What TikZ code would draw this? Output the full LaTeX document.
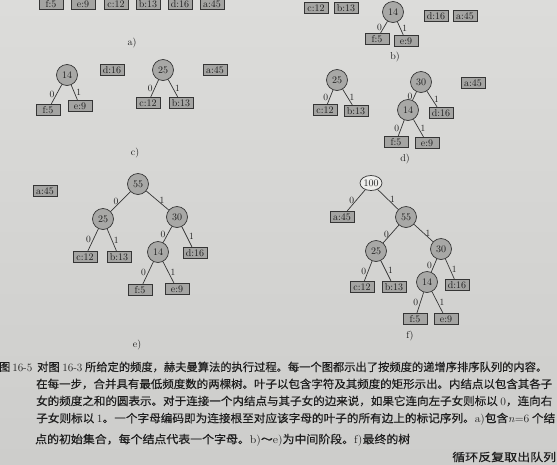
\documentclass[tikz,border=0pt]{standalone}
\usepackage{fontspec}
\usepackage{graphicx}
\usetikzlibrary{shapes.geometric}
\newfontfamily\cjk[FakeBold=0.4]{Noto Sans CJK SC}
\newcommand\lat[1]{{\rmfamily #1}}
\definecolor{paperTop}{HTML}{DCDCDA}
\definecolor{paperBot}{HTML}{CDCDCB}
\definecolor{nodefill}{HTML}{A8A8A6}
\definecolor{leaffill}{HTML}{A4A4A2}
\definecolor{edgec}{HTML}{353535}
\definecolor{ink}{HTML}{1E1E1E}
\definecolor{rootfill}{HTML}{EEEEEC}
\begin{document}
\begin{tikzpicture}[x=1pt,y=-1pt,
  inn/.style={circle, draw=edgec, line width=0.7pt, fill=nodefill, minimum size=21pt, inner sep=0pt, font=\fontsize{10}{10}\selectfont, text=ink},
  rootn/.style={ellipse, draw=edgec, line width=0.7pt, fill=rootfill, minimum width=22pt, minimum height=15pt, inner sep=0pt, font=\fontsize{10}{10}\selectfont, text=ink},
  lf/.style={rectangle, draw=edgec, line width=0.8pt, fill=leaffill, minimum width=24pt, minimum height=11.5pt, inner xsep=2pt, inner ysep=0.5pt, font=\fontsize{10}{10}\selectfont, text=ink},
  lbl/.style={font=\fontsize{9.5}{10}\selectfont, inner sep=1.8pt, text=ink},
  panel/.style={font=\fontsize{10}{10}\selectfont, text=ink},
  edg/.style={draw=edgec, line width=0.7pt},
  captxt/.style={font=\cjk\fontsize{11.2}{12}\selectfont, text=ink, inner sep=0pt, anchor=west}
]
\useasboundingbox (0,0) rectangle (557,464);
\shade[top color=paperTop, bottom color=paperBot] (0,0) rectangle (557,464);

% ---------- a) ----------
\node[lf] (fa) at (51,4) {f:5};
\node[lf] (ea) at (83,4) {e:9};
\node[lf] (ca) at (116,4) {c:12};
\node[lf] (ba) at (148,4) {b:13};
\node[lf] (da) at (180,4) {d:16};
\node[lf] (aa) at (212,4) {a:45};
\node[panel] (pa) at (132,43) {a)};

% ---------- b) ----------
\node[lf] (cb) at (316,8) {c:12};
\node[lf] (bb) at (346,8) {b:13};
\node[inn] (n14b) at (393,12) {14};
\node[lf] (fb) at (377,39) {f:5};
\node[lf] (eb) at (406,41) {e:9};
\node[lf] (db) at (436,16) {d:16};
\node[lf] (ab) at (465,16) {a:45};
\draw[edg] (n14b) -- node[lbl,left] (lb0) {0} (fb);
\draw[edg] (n14b) -- node[lbl,right] (lb1) {1} (eb);
\node[panel] (pb) at (395,57) {b)};

% ---------- c) ----------
\node[inn] (n14c) at (67,75) {14};
\node[lf] (fc) at (48,110) {f:5};
\node[lf] (ec) at (80,106) {e:9};
\draw[edg] (n14c) -- node[lbl,left] (lc0) {0} (fc);
\draw[edg] (n14c) -- node[lbl,right] (lc1) {1} (ec);
\node[lf] (dc) at (112,70) {d:16};
\node[inn] (n25c) at (163,70) {25};
\node[lf] (cc) at (148,103) {c:12};
\node[lf] (bc) at (181,103) {b:13};
\draw[edg] (n25c) -- node[lbl,left] (lc2) {0} (cc);
\draw[edg] (n25c) -- node[lbl,right] (lc3) {1} (bc);
\node[lf] (ac) at (215,70) {a:45};
\node[panel] (pc) at (135,153) {c)};

% ---------- d) ----------
\node[inn] (n25d) at (337,80) {25};
\node[lf] (cd) at (325,110) {c:12};
\node[lf] (bd) at (356,111) {b:13};
\draw[edg] (n25d) -- node[lbl,left] (ld0) {0} (cd);
\draw[edg] (n25d) -- node[lbl,right] (ld1) {1} (bd);
\node[inn] (n30d) at (421,82) {30};
\node[inn] (n14d) at (408,110) {14};
\node[lf] (dd) at (441,113) {d:16};
\draw[edg] (n30d) -- node[lbl,left] (ld2) {0} (n14d);
\draw[edg] (n30d) -- node[lbl,right] (ld3) {1} (dd);
\node[lf] (fd) at (396,142) {f:5};
\node[lf] (ed) at (427,143) {e:9};
\draw[edg] (n14d) -- node[lbl,left] (ld4) {0} (fd);
\draw[edg] (n14d) -- node[lbl,right] (ld5) {1} (ed);
\node[lf] (ad) at (473,83) {a:45};
\node[panel] (pd) at (405,159) {d)};

% ---------- e) ----------
\node[lf] (ae) at (45,191) {a:45};
\node[inn] (n55e) at (138,184) {55};
\node[inn] (n25e) at (103,219) {25};
\node[inn] (n30e) at (177,217) {30};
\draw[edg] (n55e) -- node[lbl,left] (le0) {0} (n25e);
\draw[edg] (n55e) -- node[lbl,right] (le1) {1} (n30e);
\node[lf] (ce) at (85,257) {c:12};
\node[lf] (be) at (119,257) {b:13};
\draw[edg] (n25e) -- node[lbl,left] (le2) {0} (ce);
\draw[edg] (n25e) -- node[lbl,right] (le3) {1} (be);
\node[inn] (n14e) at (158,252) {14};
\node[lf] (de) at (195,253) {d:16};
\draw[edg] (n30e) -- node[lbl,left] (le4) {0} (n14e);
\draw[edg] (n30e) -- node[lbl,right] (le5) {1} (de);
\node[lf] (fe) at (140,290) {f:5};
\node[lf] (ee) at (177,289) {e:9};
\draw[edg] (n14e) -- node[lbl,left] (le6) {0} (fe);
\draw[edg] (n14e) -- node[lbl,right] (le7) {1} (ee);
\node[panel] (pe) at (137,345) {e)};

% ---------- f) ----------
\node[rootn] (n100f) at (371,183) {100};
\node[lf] (af) at (342,217) {a:45};
\node[inn] (n55f) at (406,217) {55};
\draw[edg] (n100f) -- node[lbl,left] (lf0) {0} (af);
\draw[edg] (n100f) -- node[lbl,right] (lf1) {1} (n55f);
\node[inn] (n25f) at (376,251) {25};
\node[inn] (n30f) at (441,249) {30};
\draw[edg] (n55f) -- node[lbl,left] (lf2) {0} (n25f);
\draw[edg] (n55f) -- node[lbl,right] (lf3) {1} (n30f);
\node[lf] (cf) at (362,287) {c:12};
\node[lf] (bf) at (394,287) {b:13};
\draw[edg] (n25f) -- node[lbl,left] (lf4) {0} (cf);
\draw[edg] (n25f) -- node[lbl,right] (lf5) {1} (bf);
\node[inn] (n14f) at (427,282) {14};
\node[lf] (df) at (457,285) {d:16};
\draw[edg] (n30f) -- node[lbl,left] (lf6) {0} (n14f);
\draw[edg] (n30f) -- node[lbl,right] (lf7) {1} (df);
\node[lf] (ff) at (415,319) {f:5};
\node[lf] (ef) at (446,319) {e:9};
\draw[edg] (n14f) -- node[lbl,left] (lf8) {0} (ff);
\draw[edg] (n14f) -- node[lbl,right] (lf9) {1} (ef);
\node[panel] (pf) at (410,336) {f)};

% ---------- caption ----------
\node[captxt] (cap0) at (-1,367) {图\,\lat{16-5}};
\node[captxt] (cap1) at (37,367) {\resizebox{510pt}{\height}{对图 \lat{16-3} 所给定的频度，赫夫曼算法的执行过程。每一个图都示出了按频度的递增序排序队列的内容。}};
\node[captxt] (cap2) at (36,384) {\resizebox{516pt}{\height}{在每一步，合并具有最低频度数的两棵树。叶子以包含字符及其频度的矩形示出。内结点以包含其各子}};
\node[captxt] (cap3) at (36,401) {\resizebox{516pt}{\height}{女的频度之和的圆表示。对于连接一个内结点与其子女的边来说，如果它连向左子女则标以 \lat{0}，连向右}};
\node[captxt] (cap4) at (36,419) {\resizebox{519pt}{\height}{子女则标以 \lat{1}。一个字母编码即为连接根至对应该字母的叶子的所有边上的标记序列。\lat{a)}包含\lat{\textit{n}=6} 个结}};
\node[captxt] (cap5) at (35,440) {\resizebox{375pt}{\height}{点的初始集合，每个结点代表一个字母。\lat{b)}～\lat{e)}为中间阶段。\lat{f)}最终的树}};
\node[captxt] (cap6) at (452,457) {\resizebox{104pt}{\height}{循环反复取出队列}};
\end{tikzpicture}
\end{document}
